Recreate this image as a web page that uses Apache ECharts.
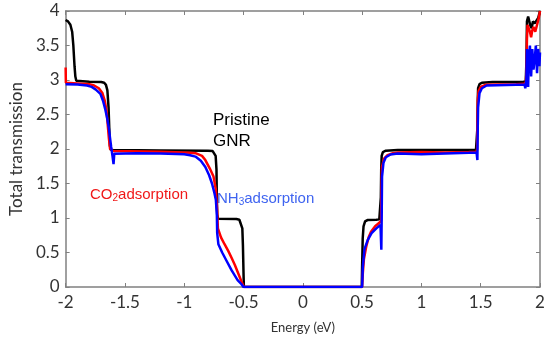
<!DOCTYPE html>
<html>
<head>
<meta charset="utf-8">
<title>Total transmission</title>
<script src="https://cdn.jsdelivr.net/npm/echarts@6/dist/echarts.min.js"></script>
<style>
    html, body { margin: 0; padding: 0; background: #fff; }
    #chart { width: 555px; height: 342px; }
</style>
</head>
<body>
<div id="chart"></div>
<script>
// x tick labels (energy, eV) and y tick range
const energyTicks = [-2, -1.5, -1, -0.5, 0, 0.5, 1, 1.5, 2]
const transTicks = [0, 0.5, 1, 1.5, 2, 2.5, 3, 3.5, 4]

// pristine GNR, [energy, transmission]
const pristine = [
    [-2, 3.87], [-1.98, 3.85], [-1.96, 3.8], [-1.945, 3.7], [-1.935, 3.5], [-1.925, 3.2],
    [-1.918, 3.05], [-1.91, 2.99], [-1.895, 2.975], [-1.8, 2.975], [-1.7, 2.97], [-1.675, 2.96],
    [-1.66, 2.93], [-1.648, 2.85], [-1.638, 2.6], [-1.632, 2.3], [-1.627, 2.05], [-1.62, 1.99],
    [-1.6, 1.985], [-1.2, 1.98], [-0.8, 1.975], [-0.76, 1.97], [-0.745, 1.95], [-0.735, 1.9],
    [-0.728, 1.7], [-0.725, 1.3], [-0.722, 1.05], [-0.715, 0.99], [-0.7, 0.985], [-0.56, 0.985],
    [-0.535, 0.975], [-0.52, 0.95], [-0.51, 0.85], [-0.505, 0.6], [-0.5, 0.2], [-0.497, 0],
    [0.497, 0], [0.5, 0.3], [0.505, 0.7], [0.512, 0.88], [0.525, 0.95], [0.545, 0.97],
    [0.62, 0.975], [0.645, 0.98], [0.655, 1.0], [0.658, 1.3], [0.661, 1.7], [0.665, 1.9],
    [0.675, 1.955], [0.7, 1.975], [0.8, 1.985], [1.2, 1.985], [1.46, 1.985], [1.47, 2.0],
    [1.472, 2.3], [1.475, 2.7], [1.478, 2.88], [1.49, 2.94], [1.51, 2.96], [1.6, 2.97],
    [1.86, 2.975], [1.88, 2.98], [1.886, 3.3], [1.89, 3.85], [1.9, 3.92], [1.91, 3.9],
    [1.92, 3.78], [1.93, 3.75], [1.94, 3.85], [1.955, 3.82], [1.97, 3.8], [1.985, 3.9], [2, 4]
]

// CO2 adsorption
const co2 = [
    [-2, 3.18], [-1.998, 2.96], [-1.99, 2.95], [-1.9, 2.95], [-1.8, 2.94], [-1.76, 2.92],
    [-1.72, 2.88], [-1.69, 2.81], [-1.67, 2.7], [-1.655, 2.55], [-1.645, 2.35], [-1.635, 2.15],
    [-1.625, 2.0], [-1.615, 1.975], [-1.6, 1.97], [-1.2, 1.96], [-0.95, 1.945], [-0.905, 1.94],
    [-0.85, 1.9], [-0.822, 1.84], [-0.785, 1.72], [-0.753, 1.6], [-0.733, 1.41], [-0.722, 1.1],
    [-0.716, 0.85], [-0.69, 0.72], [-0.66, 0.62], [-0.628, 0.52], [-0.6, 0.42], [-0.573, 0.32],
    [-0.545, 0.2], [-0.52, 0.09], [-0.497, 0],
    [0.5, 0], [0.506, 0.2], [0.515, 0.4], [0.534, 0.58], [0.555, 0.72], [0.575, 0.8],
    [0.61, 0.88], [0.645, 0.93], [0.66, 0.96], [0.663, 1.4], [0.667, 1.74], [0.685, 1.86],
    [0.714, 1.91], [0.76, 1.94], [0.8, 1.95], [1.0, 1.955], [1.2, 1.95], [1.4, 1.955],
    [1.465, 1.96], [1.47, 2.0], [1.472, 2.4], [1.475, 2.7], [1.482, 2.84], [1.5, 2.9],
    [1.54, 2.93], [1.8, 2.94], [1.87, 2.945], [1.878, 2.9], [1.885, 3.1], [1.89, 3.6],
    [1.895, 3.8], [1.905, 3.82], [1.915, 3.7], [1.925, 3.62], [1.935, 3.72], [1.945, 3.77],
    [1.96, 3.7], [1.975, 3.72], [1.99, 3.9], [2, 4]
]

// NH3 adsorption
const nh3 = [
    [-2, 2.94], [-1.9, 2.935], [-1.82, 2.92], [-1.78, 2.9], [-1.745, 2.86], [-1.707, 2.8],
    [-1.685, 2.7], [-1.665, 2.57], [-1.65, 2.45], [-1.637, 2.32], [-1.625, 2.15], [-1.616, 2.03],
    [-1.605, 1.9], [-1.596, 1.78], [-1.59, 1.93], [-1.58, 1.95], [-1.4, 1.94], [-1.2, 1.935],
    [-1.0, 1.925], [-0.95, 1.91], [-0.905, 1.89], [-0.86, 1.83], [-0.822, 1.74], [-0.79, 1.62],
    [-0.766, 1.5], [-0.745, 1.36], [-0.733, 1.26], [-0.725, 1.05], [-0.722, 0.78], [-0.712, 0.62],
    [-0.68, 0.5], [-0.64, 0.37], [-0.6, 0.24], [-0.55, 0.1], [-0.517, 0.04], [-0.5, 0],
    [0.5, 0], [0.506, 0.29], [0.52, 0.55], [0.547, 0.68], [0.58, 0.78], [0.62, 0.85],
    [0.655, 0.9], [0.662, 0.54], [0.665, 1.0], [0.668, 1.6], [0.68, 1.8], [0.7, 1.88],
    [0.74, 1.92], [0.8, 1.935], [1.0, 1.925], [1.2, 1.935], [1.4, 1.945], [1.465, 1.95],
    [1.472, 1.84], [1.475, 2.3], [1.478, 2.6], [1.49, 2.81], [1.51, 2.88], [1.55, 2.92],
    [1.8, 2.93], [1.87, 2.93], [1.876, 2.88], [1.885, 3.0], [1.89, 3.45], [1.895, 3.1],
    [1.9, 2.9], [1.905, 3.3], [1.915, 3.5], [1.925, 3.05], [1.935, 3.45], [1.945, 3.15],
    [1.955, 3.3], [1.965, 3.5], [1.975, 3.1], [1.985, 3.45], [1.995, 3.2], [2, 3.4]
]

const chart = echarts.init(document.getElementById('chart'))

const axisColor = '#808080'
const labelFont = { fontFamily: 'Lato', fontSize: 17, color: '#333' }

// box axes (top / right) only carry ticks
function boxX(pos, show) {
    return {
        type: 'value', position: pos,
        min: energyTicks[0], max: energyTicks[energyTicks.length - 1], interval: 0.5,
        axisLine: { show: true, onZero: false, lineStyle: { color: axisColor, width: 1.5 } },
        axisTick: { show: true, inside: true, length: 4, lineStyle: { color: axisColor } },
        axisLabel: Object.assign({ show: show, margin: 7 }, labelFont),
        splitLine: { show: false }
    }
}
function boxY(pos, show) {
    return {
        type: 'value', position: pos,
        min: transTicks[0], max: transTicks[transTicks.length - 1], interval: 0.5,
        axisLine: { show: true, onZero: false, lineStyle: { color: axisColor, width: 1.5 } },
        axisTick: { show: true, inside: true, length: 4, lineStyle: { color: axisColor } },
        axisLabel: Object.assign({ show: show, margin: 6 }, labelFont),
        splitLine: { show: false }
    }
}

const xMain = boxX('bottom', true)
xMain.name = 'Energy (eV)'
xMain.nameLocation = 'middle'
xMain.nameGap = 34
xMain.nameTextStyle = { fontFamily: 'Lato', fontSize: 13, color: '#333' }

const yMain = boxY('left', true)
yMain.name = 'Total transmission'
yMain.nameLocation = 'middle'
yMain.nameGap = 29
yMain.nameTextStyle = { fontFamily: 'Lato', fontSize: 17, color: '#333' }

function line(name, data, color) {
    return {
        name: name, type: 'line', data: data,
        showSymbol: false, symbol: 'none', smooth: false,
        lineStyle: { color: color, width: 2.5 },
        clip: true
    }
}

const option = {
    animation: false,
    grid: { left: 58, right: 15, top: 11, bottom: 55 },
    xAxis: [xMain, boxX('top', false)],
    yAxis: [yMain, boxY('right', false)],
    series: [
        line('Pristine GNR', pristine, '#000000'),
        line('CO2 adsorption', co2, '#ff0000'),
        line('NH3 adsorption', nh3, '#0000ff')
    ],
    // text annotations
    graphic: [
        {
            type: 'text', left: 213, top: 110,
            style: { text: 'Pristine\nGNR', fill: '#000', font: '17px "Liberation Sans"', lineHeight: 21 }
        },
        {
            type: 'text', left: 90, top: 187,
            style: {
                text: '{a|CO}{s|2}{a|adsorption}',
                rich: {
                    a: { fill: '#f01818', fontSize: 15, fontFamily: 'Liberation Sans' },
                    s: { fill: '#f01818', fontSize: 10, fontFamily: 'Liberation Sans', padding: [8, 0, 0, 0] }
                }
            }
        },
        {
            type: 'text', left: 217, top: 191,
            style: {
                text: '{a|NH}{s|3}{a|adsorption}',
                rich: {
                    a: { fill: '#3f64f0', fontSize: 15, fontFamily: 'Liberation Sans' },
                    s: { fill: '#3f64f0', fontSize: 10, fontFamily: 'Liberation Sans', padding: [8, 0, 0, 0] }
                }
            }
        }
    ]
}

chart.setOption(option)
</script>
</body>
</html>
